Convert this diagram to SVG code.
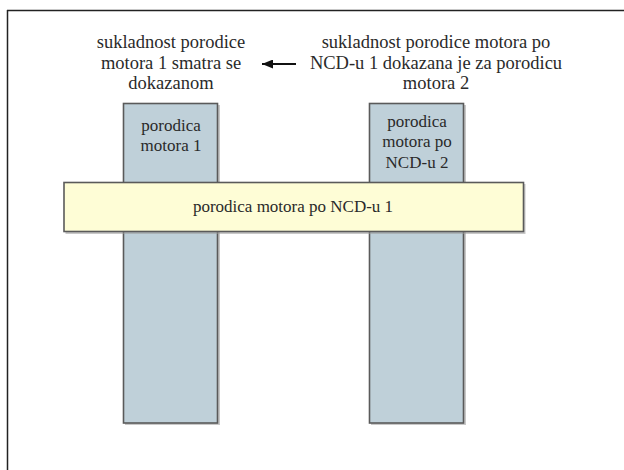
<svg xmlns="http://www.w3.org/2000/svg" width="624" height="470" viewBox="0 0 624 470">
  <defs>
    <style>
      text { font-family: 'Liberation Serif', 'DejaVu Serif', serif; fill: #2a2a2a; text-anchor: middle; }
      .lbl { font-size: 17px; }
      .cap { font-size: 18.5px; }
      .col { fill: #bfd0d9; stroke: #5a5a5a; stroke-width: 1.6; }
      .band { fill: #fefdd6; stroke: #5a5a5a; stroke-width: 1.6; }
      .shadow { fill: #9a9a9a; opacity: 0.55; }
    </style>
    <marker id="arrowhead" markerWidth="11" markerHeight="9" refX="11" refY="4.5" orient="auto" markerUnits="userSpaceOnUse">
      <path d="M0,0 L11,4.5 L0,9 Z" fill="#111"/>
    </marker>
  </defs>
  <rect width="624" height="470" fill="#ffffff"/>

  <!-- frame -->
  <g id="frame" stroke="#222" stroke-width="1.5" fill="none">
    <line x1="7" y1="10.5" x2="624" y2="10.5"/>
    <line x1="7.5" y1="10" x2="7.5" y2="470"/>
  </g>

  <!-- captions -->
  <g id="caption-left">
    <text class="cap" x="171" y="48">sukladnost porodice</text>
    <text class="cap" x="171" y="68.5">motora 1 smatra se</text>
    <text class="cap" x="171" y="89">dokazanom</text>
  </g>
  <g id="caption-right">
    <text class="cap" x="436" y="48">sukladnost porodice motora po</text>
    <text class="cap" x="436" y="68.5">NCD-u 1 dokazana je za porodicu</text>
    <text class="cap" x="436" y="89">motora 2</text>
  </g>

  <!-- connectors -->
  <g id="connectors">
    <line x1="296" y1="64" x2="262" y2="64" stroke="#111" stroke-width="2" marker-end="url(#arrowhead)"/>
  </g>

  <!-- engine family 1 column -->
  <g id="family-1">
    <rect class="shadow" x="125" y="105" width="95" height="320"/>
    <rect class="col" x="123.5" y="103.5" width="94" height="319.5"/>
    <text class="lbl" x="171" y="131">porodica</text>
    <text class="lbl" x="171" y="151">motora 1</text>
  </g>

  <!-- NCD engine family 2 column -->
  <g id="family-ncd-2">
    <rect class="shadow" x="371" y="105" width="95" height="320"/>
    <rect class="col" x="369.5" y="103.5" width="94" height="319.5"/>
    <text class="lbl" x="417" y="127">porodica</text>
    <text class="lbl" x="417" y="147">motora po</text>
    <text class="lbl" x="417" y="168">NCD-u 2</text>
  </g>

  <!-- NCD engine family 1 band -->
  <g id="family-ncd-1">
    <rect class="shadow" x="65.5" y="184" width="460" height="50"/>
    <rect class="band" x="64" y="182.5" width="459.5" height="49"/>
    <text class="lbl" x="293" y="212">porodica motora po NCD-u 1</text>
  </g>
</svg>
